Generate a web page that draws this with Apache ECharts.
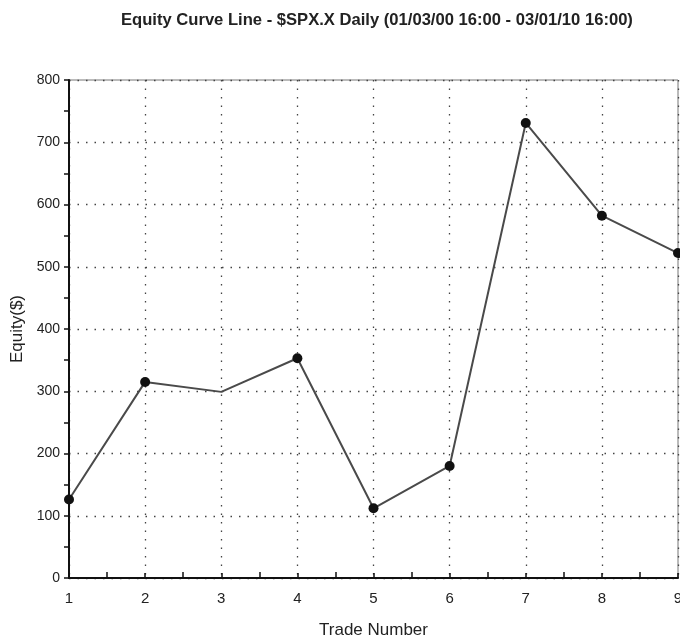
<!DOCTYPE html>
<html><head><meta charset="utf-8">
<script src="https://cdn.jsdelivr.net/npm/echarts@6/dist/echarts.min.js"></script>
<style>html,body{margin:0;padding:0;background:#fff}#c{width:680px;height:638px}</style>
</head><body><div id="c"></div>
<script>
const tradeNumbers = [1, 2, 3, 4, 5, 6, 7, 8, 9];
const equity = [126, 315, 299, 353, 112, 180, 731, 582, 522];
const markerShown = [true, true, false, true, true, true, true, true, true];
const titleText = 'Equity Curve Line - $SPX.X Daily (01/03/00 16:00 - 03/01/10 16:00)';

const font = '"Liberation Sans", Arial, Helvetica, sans-serif';
const data = tradeNumbers.map((x, i) => ({
  value: [x, equity[i]],
  symbol: markerShown[i] ? 'circle' : 'none'
}));
const chart = echarts.init(document.getElementById('c'));
chart.setOption({
  animation: false,
  backgroundColor: '#fff',
  title: {
    text: titleText, left: 116, top: 7,
    textStyle: { fontFamily: font, fontSize: 16.6, fontWeight: 'bold', color: '#222' }
  },
  grid: { left: 69, right: 2, top: 80, bottom: 60, show: true, borderColor: '#777', borderWidth: 1,
          outerBoundsMode: 'none', containLabel: false },
  xAxis: {
    type: 'value', min: 1, max: 9, interval: 1,
    name: 'Trade Number', nameLocation: 'middle', nameGap: 44,
    nameTextStyle: { fontFamily: font, fontSize: 17, color: '#222' },
    axisLine: { lineStyle: { color: '#111', width: 2 } },
    axisTick: { show: true, inside: true, length: 5, lineStyle: { color: '#111', width: 1.5 } },
    minorTick: { show: true, splitNumber: 2, length: 6, lineStyle: { color: '#111', width: 1.5 } },
    axisLabel: { fontFamily: font, fontSize: 15, color: '#222', margin: 13 },
    splitLine: { show: true, lineStyle: { color: '#444', width: 1.3, type: [1.5, 7] } }
  },
  yAxis: {
    type: 'value', min: 0, max: 800, interval: 100,
    name: 'Equity($)', nameLocation: 'middle', nameGap: 43, nameRotate: 90,
    nameTextStyle: { fontFamily: font, fontSize: 17, color: '#222' },
    axisLine: { show: true, lineStyle: { color: '#111', width: 2 } },
    axisTick: { show: true, length: 5, lineStyle: { color: '#111', width: 1.5 } },
    minorTick: { show: true, splitNumber: 2, length: 5, lineStyle: { color: '#111', width: 1.5 } },
    axisLabel: { fontFamily: font, fontSize: 14, color: '#222', margin: 9 },
    splitLine: { show: true, lineStyle: { color: '#444', width: 1.3, type: [1.5, 7] } }
  },
  series: [{
    type: 'line', data: data,
    symbolSize: 10,
    lineStyle: { color: '#4a4a4a', width: 2 },
    itemStyle: { color: '#111' }
  }]
});
</script></body></html>
